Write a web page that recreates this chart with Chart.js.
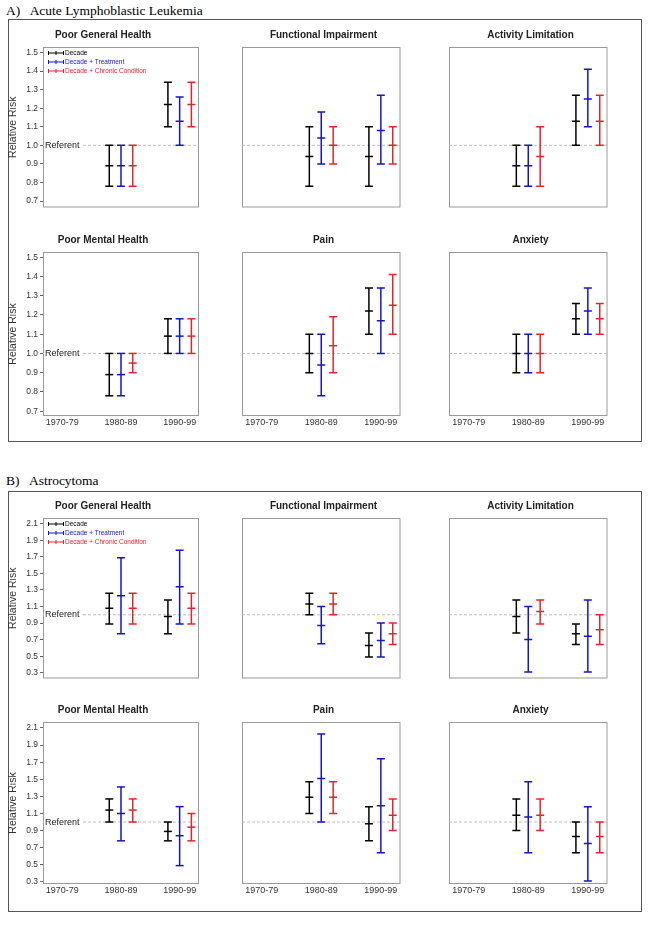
<!DOCTYPE html>
<html>
<head>
<meta charset="utf-8">
<script src="https://cdn.jsdelivr.net/npm/chart.js@4.4.0/dist/chart.umd.min.js"></script>
<style>
body{margin:0;background:#fff;width:648px;height:927px;position:relative;overflow:hidden}
.sec{position:absolute;left:8px;width:634px;border:1.5px solid #555;box-sizing:border-box}
.head{position:absolute;left:6px;font:13.5px "Liberation Serif","Times New Roman",serif;color:#000;white-space:pre}
canvas{position:absolute}
</style>
</head>
<body>
<div class="head" style="top:3px">A)   Acute Lymphoblastic Leukemia</div>
<div class="sec" style="top:19px;height:423px"></div>
<div class="head" style="top:473px">B)   Astrocytoma</div>
<div class="sec" style="top:491px;height:421px"></div>
<script>
const decades=["1970-79","1980-89","1990-99"];
const seriesNames=["Decade","Decade + Treatment","Decade + Chronic Condition"];
const yTicksA=[0.7,0.8,0.9,1.0,1.1,1.2,1.3,1.4,1.5];
const yTicksB=[0.3,0.5,0.7,0.9,1.1,1.3,1.5,1.7,1.9,2.1];

// each series: [1980-89, 1990-99] as [lower, estimate, upper]; 1970-79 is the referent
const allGeneral=[
[[0.78,0.89,1.00],[1.10,1.22,1.34]],
[[0.78,0.89,1.00],[1.00,1.13,1.26]],
[[0.78,0.89,1.00],[1.10,1.22,1.34]]];
const allFunctional=[
[[0.78,0.94,1.10],[0.78,0.94,1.10]],
[[0.90,1.04,1.18],[0.90,1.08,1.27]],
[[0.90,1.00,1.10],[0.90,1.00,1.10]]];
const allActivity=[
[[0.78,0.89,1.00],[1.00,1.13,1.27]],
[[0.78,0.89,1.00],[1.10,1.25,1.41]],
[[0.78,0.94,1.10],[1.00,1.13,1.27]]];
const allMental=[
[[0.78,0.89,1.00],[1.00,1.09,1.18]],
[[0.78,0.89,1.00],[1.00,1.09,1.18]],
[[0.90,0.95,1.00],[1.00,1.09,1.18]]];
const allPain=[
[[0.90,1.00,1.10],[1.10,1.22,1.34]],
[[0.78,0.94,1.10],[1.00,1.17,1.34]],
[[0.90,1.04,1.19],[1.10,1.25,1.41]]];
const allAnxiety=[
[[0.90,1.00,1.10],[1.10,1.18,1.26]],
[[0.90,1.00,1.10],[1.10,1.22,1.34]],
[[0.90,1.00,1.10],[1.10,1.18,1.26]]];

const astroGeneral=[
[[0.89,1.08,1.26],[0.77,0.98,1.18]],
[[0.77,1.23,1.69],[0.89,1.34,1.78]],
[[0.89,1.08,1.26],[0.89,1.08,1.26]]];
const astroFunctional=[
[[1.00,1.13,1.26],[0.49,0.63,0.78]],
[[0.65,0.87,1.10],[0.49,0.69,0.90]],
[[1.00,1.13,1.26],[0.64,0.77,0.90]]];
const astroActivity=[
[[0.78,0.98,1.18],[0.64,0.77,0.89]],
[[0.31,0.70,1.10],[0.31,0.74,1.18]],
[[0.89,1.04,1.18],[0.64,0.82,1.00]]];
const astroMental=[
[[1.00,1.14,1.27],[0.78,0.89,1.00]],
[[0.78,1.10,1.41],[0.49,0.84,1.18]],
[[1.00,1.14,1.27],[0.78,0.94,1.10]]];
const astroPain=[
[[1.10,1.29,1.47],[0.78,0.98,1.18]],
[[1.00,1.51,2.03],[0.64,1.19,1.74]],
[[1.10,1.29,1.47],[0.90,1.08,1.27]]];
const astroAnxiety=[
[[0.90,1.08,1.27],[0.64,0.83,1.00]],
[[0.64,1.06,1.47],[0.31,0.75,1.18]],
[[0.90,1.08,1.27],[0.64,0.83,1.00]]];

const panels=[
{title:"Poor General Health",vals:allGeneral},
{title:"Functional Impairment",vals:allFunctional},
{title:"Activity Limitation",vals:allActivity},
{title:"Poor Mental Health",vals:allMental},
{title:"Pain",vals:allPain},
{title:"Anxiety",vals:allAnxiety},
{title:"Poor General Health",vals:astroGeneral},
{title:"Functional Impairment",vals:astroFunctional},
{title:"Activity Limitation",vals:astroActivity},
{title:"Poor Mental Health",vals:astroMental},
{title:"Pain",vals:astroPain},
{title:"Anxiety",vals:astroAnxiety}];

const colors=["#000000","#1414c8","#e4242c"];
const offsets=[-0.2,0,0.2];
const XMIN=0.67,XMAX=3.33;
const FONT='"Liberation Sans", Arial, sans-serif';

// plot area boxes
const cols=[{left:43,width:156},{left:242,width:163},{left:449,width:163}];
const rows=[
{top:47,height:165,min:0.665,max:1.53,ticks:yTicksA},
{top:252,height:164,min:0.675,max:1.527,ticks:yTicksA},
{top:518,height:165,min:0.23,max:2.17,ticks:yTicksB},
{top:722,height:162,min:0.275,max:2.17,ticks:yTicksB}];

const deco={
id:"panelDeco",
beforeDatasetsDraw(chart){
const a=chart.chartArea,ctx=chart.ctx;
ctx.save();
ctx.strokeStyle="#9a9a9a";
ctx.lineWidth=1;
ctx.strokeRect(a.left+0.5,a.top+0.5,a.right-a.left-1,a.bottom-a.top-1);
ctx.restore();
},
afterDatasetsDraw(chart,args,opts){
const a=chart.chartArea,ctx=chart.ctx;
ctx.save();
if(opts.referent){
const y=chart.scales.y.getPixelForValue(1);
ctx.font="9px "+FONT;
const w=ctx.measureText("Referent").width;
ctx.fillStyle="#fff";
ctx.fillRect(a.left+1,y-4,w+3,8);
ctx.fillStyle="#222";
ctx.textBaseline="middle";
ctx.fillText("Referent",a.left+2,y);
}
if(opts.legend){
ctx.font="6.5px "+FONT;
ctx.textBaseline="middle";
seriesNames.forEach((n,i)=>{
const cy=a.top+6+i*9;
const x0=a.left+5,x1=a.left+21;
ctx.strokeStyle=colors[i];
ctx.lineWidth=1;
ctx.beginPath();
ctx.moveTo(x0,cy);ctx.lineTo(x1,cy);
[x0+0.5,(x0+x1)/2,x1-0.5].forEach(x=>{ctx.moveTo(x,cy-2);ctx.lineTo(x,cy+2);});
ctx.stroke();
ctx.fillStyle=colors[i];
ctx.fillText(n,x1+1,cy);
});
}
ctx.restore();
}
};

function buildSets(vals){
const sets=vals.map((ser,i)=>{
const pts=[];
ser.forEach((ci,k)=>{
const x=k+2+offsets[i];
ci.forEach(v=>pts.push({x:x,y:v}));
pts.push({x:x,y:null});
});
return {label:seriesNames[i],data:pts,borderColor:colors[i],borderWidth:1.5,
pointStyle:"line",pointRadius:4,pointBorderWidth:1.5,pointBorderColor:colors[i],
pointBackgroundColor:colors[i],spanGaps:false,tension:0};
});
sets.push({label:"ref",data:[{x:XMIN,y:1},{x:XMAX,y:1}],borderColor:"#bdbdbd",
borderWidth:1,borderDash:[3,2],pointRadius:0});
return sets;
}

panels.forEach((p,idx)=>{
const sec=Math.floor(idx/6);
const r=Math.floor((idx%6)/3);
const c=idx%3;
const row=rows[sec*2+r];
const col=cols[c];
const first=c===0;
const bottom=r===1;
const padL=first?0:9;
const padR=first?20:1;
const yw=first?36:0;
const xh=bottom?16:0;
const padB=bottom?0:1;

const cv=document.createElement("canvas");
const w=padL+yw+col.width+padR;
const h=22+row.height+xh+padB;
cv.width=w;cv.height=h;
cv.style.left=(col.left-yw-padL)+"px";
cv.style.top=(row.top-22)+"px";
cv.style.width=w+"px";cv.style.height=h+"px";
document.body.appendChild(cv);

new Chart(cv,{
type:"line",
data:{datasets:buildSets(p.vals)},
options:{
responsive:false,animation:false,events:[],devicePixelRatio:1,
layout:{padding:{left:padL,right:padR,top:0,bottom:padB}},
plugins:{
legend:{display:false},
tooltip:{enabled:false},
title:{display:true,text:p.title,color:"#222",font:{family:FONT,size:10,weight:"bold"},padding:{top:4,bottom:6}},
panelDeco:{referent:first,legend:first&&r===0}
},
scales:{
x:{type:"linear",min:XMIN,max:XMAX,display:bottom,
grid:{display:false,drawTicks:false},border:{display:false},
afterBuildTicks:s=>{s.ticks=[1,2,3].map(v=>({value:v}));},
afterFit:s=>{s.height=xh;s.paddingLeft=0;s.paddingRight=0;s.paddingTop=0;s.paddingBottom=0;},
ticks:{callback:v=>decades[v-1],font:{family:FONT,size:9},color:"#333",padding:1,maxRotation:0,autoSkip:false}},
y:{type:"linear",min:row.min,max:row.max,display:first,
border:{display:false},
grid:{drawOnChartArea:false,drawTicks:true,tickLength:3,color:"#666"},
afterBuildTicks:s=>{s.ticks=row.ticks.map(v=>({value:v}));},
afterFit:s=>{s.width=yw;s.paddingLeft=0;s.paddingRight=0;s.paddingTop=0;s.paddingBottom=0;},
ticks:{callback:v=>v.toFixed(1),font:{family:FONT,size:8.5},color:"#333",padding:2,autoSkip:false},
title:{display:true,text:"Relative Risk",color:"#333",font:{family:FONT,size:10.5},padding:{top:0,bottom:0}}}
}
},
plugins:[deco]
});
});
</script>
</body>
</html>
